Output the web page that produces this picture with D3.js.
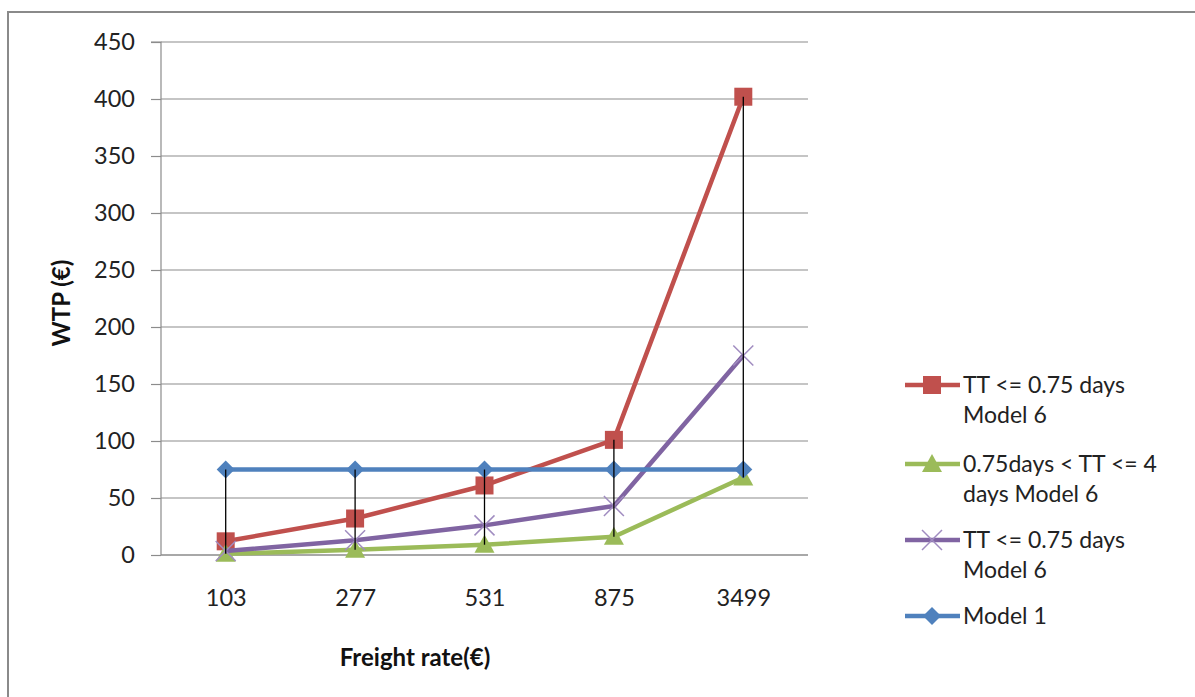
<!DOCTYPE html>
<html><head><meta charset="utf-8">
<script src="https://cdn.jsdelivr.net/npm/d3@7"></script>
<style>body{margin:0;background:#fff;}svg{display:block;font-family:Lato,"Liberation Sans",sans-serif;}</style>
</head><body>
<svg id="c" width="1195" height="697"></svg>
<script>
const categories = ["103","277","531","875","3499"];
const yTicks = [0,50,100,150,200,250,300,350,400,450];
const redVals = [12,32,61,101,402];
const greenVals = [1,4.5,9,16,68];
const purpleVals = [3.5,13,26,43,175];
const blueVals = [75,75,75,75,75];
const seriesNames = [["TT <= 0.75 days","Model 6"],["0.75days < TT <= 4","days Model 6"],["TT <= 0.75 days","Model 6"],["Model 1"]];
const seriesColors = ["#C0504D","#9BBB59","#8064A2","#4F81BD"];
const seriesMarkers = ["square","triangle","cross","diamond"];
const seriesVals = [redVals, greenVals, purpleVals, blueVals];

const svg = d3.select("#c");
svg.append("rect").attr("x",8).attr("y",12).attr("width",1195).attr("height",700).attr("fill","none").attr("stroke","#8a8a8a").attr("stroke-width",2);

const L=161,R=808,T=42,B=555;
const x = d3.scalePoint().domain(categories).range([L,R]).padding(0.5);
const y = d3.scaleLinear().domain([0,450]).range([B,T]);

svg.append("g").selectAll("line").data(yTicks).join("line")
  .attr("x1",L).attr("x2",R).attr("y1",d=>y(d)).attr("y2",d=>y(d))
  .attr("stroke","#8c8c8c").attr("stroke-width",1.2);

const ya = svg.append("g").attr("transform",`translate(${L},0)`)
  .call(d3.axisLeft(y).tickValues(yTicks).tickSize(10).tickPadding(16));
ya.select(".domain").attr("stroke","#8c8c8c").attr("stroke-width",1.2).attr("d",`M-10,${T}H0V${B}`);
ya.selectAll(".tick line").attr("stroke","#8c8c8c").attr("stroke-width",1.2);
ya.selectAll("text").attr("font-size",23.5).attr("fill","#222").attr("font-family","Lato,sans-serif");

const xa = svg.append("g").attr("transform",`translate(0,${B})`)
  .call(d3.axisBottom(x).tickSize(0).tickPadding(34));
xa.select(".domain").attr("stroke","#8c8c8c").attr("stroke-width",1.2).attr("d",`M${L},0H${R}`);
xa.selectAll("text").attr("font-size",23.5).attr("fill","#222").attr("font-family","Lato,sans-serif");

svg.append("text").attr("x",415).attr("y",666).attr("text-anchor","middle").attr("font-size",24).attr("font-weight","bold").attr("fill","#111").text("Freight rate(€)");
svg.append("text").attr("transform","translate(70,303) rotate(-90)").attr("text-anchor","middle").attr("font-size",24).attr("font-weight","bold").attr("fill","#111").text("WTP (€)");

function marker(g,type,color,cx,cy){
  if(type==="square") g.append("rect").attr("x",cx-9).attr("y",cy-9).attr("width",18).attr("height",18).attr("fill",color);
  else if(type==="triangle") g.append("path").attr("d",`M${cx},${cy-10}L${cx+10},${cy+8}L${cx-10},${cy+8}Z`).attr("fill",color);
  else if(type==="diamond") g.append("path").attr("d",`M${cx},${cy-9}L${cx+9},${cy}L${cx},${cy+9}L${cx-9},${cy}Z`).attr("fill",color);
  else if(type==="cross") g.append("path").attr("d",`M${cx-10},${cy-10}L${cx+10},${cy+10}M${cx+10},${cy-10}L${cx-10},${cy+10}`).attr("stroke","#a08cc0").attr("stroke-width",1.5).attr("fill","none");
}

const line = d3.line().x((d,i)=>x(categories[i])).y(d=>y(d));
seriesVals.forEach((vals,si)=>{
  const g = svg.append("g");
  g.append("path").attr("d",line(vals)).attr("fill","none").attr("stroke",seriesColors[si]).attr("stroke-width",4.5).attr("stroke-linejoin","round");
  vals.forEach((v,i)=>marker(g,seriesMarkers[si],seriesColors[si],x(categories[i]),y(v)));
});

svg.append("g").selectAll("line").data(categories).join("line")
  .attr("x1",d=>x(d)).attr("x2",d=>x(d))
  .attr("y1",(d,i)=>y(d3.max(seriesVals,s=>s[i])))
  .attr("y2",(d,i)=>y(d3.min(seriesVals,s=>s[i])))
  .attr("stroke","#000").attr("stroke-width",1.3);

const legY = [385,464,540,616];
seriesNames.forEach((lines,si)=>{
  const g = svg.append("g");
  const cy = legY[si];
  g.append("line").attr("x1",905).attr("x2",960).attr("y1",cy).attr("y2",cy).attr("stroke",seriesColors[si]).attr("stroke-width",4.5);
  marker(g,seriesMarkers[si],seriesColors[si],932,cy);
  lines.forEach((t,li)=>{
    g.append("text").attr("x",963).attr("y",cy+8+li*30).attr("font-size",23).attr("fill","#222").text(t);
  });
});
</script>
</body></html>
